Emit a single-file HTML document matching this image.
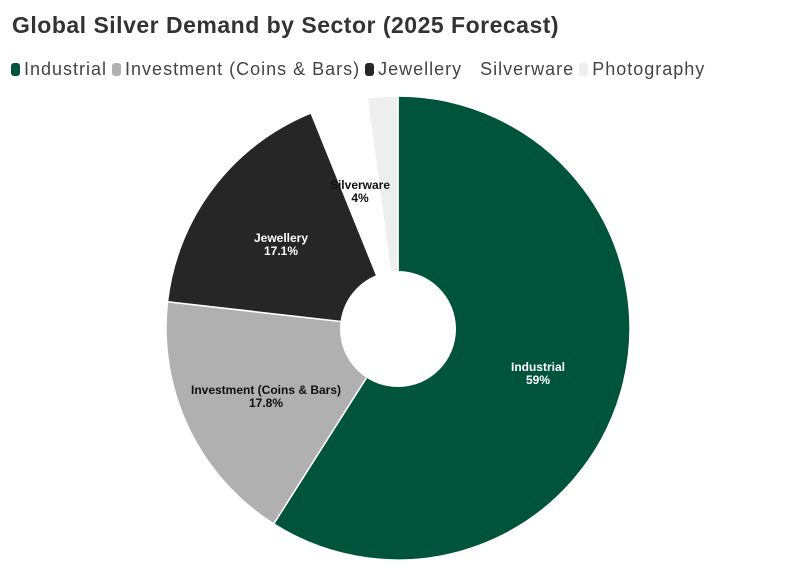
<!DOCTYPE html>
<html><head><style>
body{margin:0;background:#fff;width:794px;height:575px;overflow:hidden;font-family:"Liberation Sans",sans-serif}
.t{position:absolute;left:12px;top:12px;font-size:23px;font-weight:bold;color:#333;letter-spacing:0.5px}
.lg{position:absolute;left:11px;top:59px;font-size:18px;color:#444;white-space:nowrap;letter-spacing:1px}
.lg span{display:inline-block;margin-right:5px}
.lg i{display:inline-block;width:9px;height:13px;border-radius:3px;margin-right:4px;vertical-align:-1px}
</style></head><body>
<div class="t">Global Silver Demand by Sector (2025 Forecast)</div>
<div class="lg"><span><i style="background:#00543b"></i>Industrial</span><span><i style="background:#b0b0b0"></i>Investment (Coins &amp; Bars)</span><span><i style="background:#262626"></i>Jewellery</span><span><i style="background:#fff"></i>Silverware</span><span><i style="background:#eee"></i>Photography</span></div>
<svg width="794" height="575" style="position:absolute;left:0;top:0">
<g stroke="#fff" stroke-width="1.5">
<path d="M398,328 L398,96 A232,232 0 1 1 273.7,523.9 Z" fill="#00543b"/>
<path d="M398,328 L273.7,523.9 A232,232 0 0 1 167.5,301.7 Z" fill="#b0b0b0"/>
<path d="M398,328 L167.5,301.7 A232,232 0 0 1 311.1,112.9 Z" fill="#262626"/>
<path d="M398,328 L311.1,112.9 A232,232 0 0 1 367.3,98 Z" fill="#fff"/>
<path d="M398,328 L367.3,98 A232,232 0 0 1 398,96 Z" fill="#eee"/>
</g>
<circle cx="398" cy="329" r="58" fill="#fff"/>
<g font-family="Liberation Sans, sans-serif" font-size="12" font-weight="bold" text-anchor="middle">
<text x="538" y="371" fill="#fff">Industrial</text><text x="538" y="384" fill="#fff">59%</text>
<text x="266" y="394" fill="#111">Investment (Coins &amp; Bars)</text><text x="266" y="407" fill="#111">17.8%</text>
<text x="281" y="242" fill="#fff">Jewellery</text><text x="281" y="255" fill="#fff">17.1%</text>
<text x="360" y="189" fill="#111">Silverware</text><text x="360" y="202" fill="#111">4%</text>
</g>
</svg>
</body></html>
